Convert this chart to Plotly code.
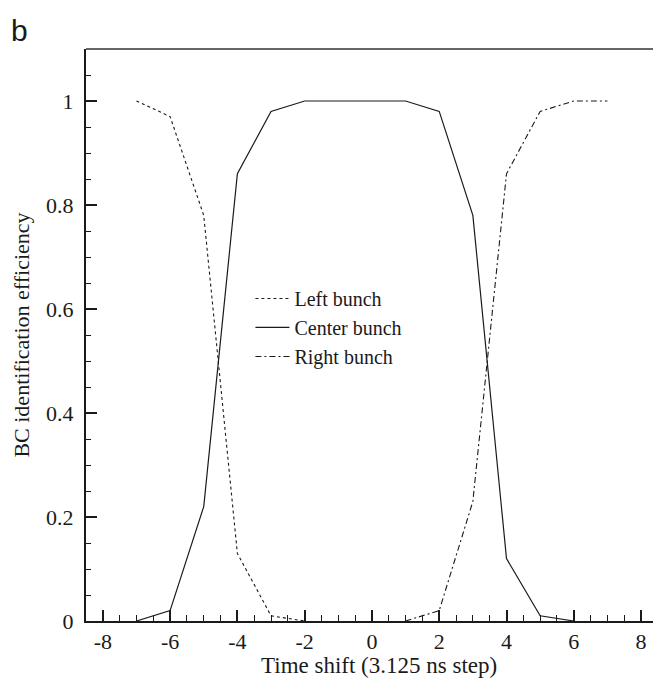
import plotly.graph_objects as go

x_left = [-7, -6, -5, -4, -3, -2]
y_left = [1.0, 0.97, 0.78, 0.13, 0.01, 0.0]

x_center = [-7, -6, -5, -4, -3, -2, -1, 0, 1, 2, 3, 4, 5, 6]
y_center = [0.0, 0.02, 0.22, 0.86, 0.98, 1.0, 1.0, 1.0, 1.0, 0.98, 0.78, 0.12, 0.01, 0.0]

x_right = [1, 2, 3, 4, 5, 6, 7]
y_right = [0.0, 0.02, 0.23, 0.86, 0.98, 1.0, 1.0]

x_ticks = [-8, -6, -4, -2, 0, 2, 4, 6, 8]
x_tick_labels = ["-8", "-6", "-4", "-2", "0", "2", "4", "6", "8"]
y_ticks = [0, 0.2, 0.4, 0.6, 0.8, 1]
y_tick_labels = ["0", "0.2", "0.4", "0.6", "0.8", "1"]

SERIF = "Liberation Serif, Times New Roman, serif"
INK = "#1a1a1a"

fig = go.Figure()
fig.add_trace(go.Scatter(x=x_left, y=y_left, mode="lines", name="Left bunch",
                         line=dict(color=INK, width=1.1, dash="3px,3px")))
fig.add_trace(go.Scatter(x=x_center, y=y_center, mode="lines", name="Center bunch",
                         line=dict(color=INK, width=1.2)))
fig.add_trace(go.Scatter(x=x_right, y=y_right, mode="lines", name="Right bunch",
                         line=dict(color=INK, width=1.1, dash="6px,3px,2px,3px")))

fig.update_layout(
    width=653, height=680,
    margin=dict(l=86, r=0, t=49, b=59),
    paper_bgcolor="white", plot_bgcolor="white",
    font=dict(family=SERIF, size=22, color=INK),
    showlegend=True,
    legend=dict(x=0.29, y=0.598, xanchor="left", yanchor="top",
                bgcolor="rgba(0,0,0,0)", font=dict(family=SERIF, size=20, color=INK),
                itemwidth=34, tracegroupgap=0),
    xaxis=dict(range=[-8.5, 8.355], tickmode="array", tickvals=x_ticks, ticktext=x_tick_labels,
               showgrid=False, zeroline=False, showline=True, linecolor=INK, linewidth=2,
               ticks="inside", ticklen=11, tickwidth=1.5, tickcolor=INK,
               minor=dict(dtick=0.5, ticks="inside", ticklen=6, tickwidth=1, tickcolor=INK),
               tickfont=dict(family=SERIF, size=22, color=INK)),
    yaxis=dict(range=[0, 1.1], tickmode="array", tickvals=y_ticks, ticktext=y_tick_labels,
               showgrid=False, zeroline=False, showline=True, linecolor=INK, linewidth=2,
               ticks="inside", ticklen=11, tickwidth=1.5, tickcolor=INK,
               minor=dict(dtick=0.05, ticks="inside", ticklen=5, tickwidth=1, tickcolor=INK),
               tickfont=dict(family=SERIF, size=22, color=INK), ticklabelstandoff=6,
               title=dict(text="BC identification efficiency", standoff=10,
                          font=dict(family=SERIF, size=22, color=INK))),
)

# x-axis title (centred on the full, partly cropped axis as in the reference)
fig.add_annotation(text="Time shift (3.125 ns step)", xref="paper", yref="paper",
                   x=0.517, y=-0.078, xanchor="center", yanchor="middle", showarrow=False,
                   font=dict(family=SERIF, size=23, color=INK))

# top frame line
fig.add_shape(type="line", xref="paper", yref="paper", x0=0, x1=1, y0=1, y1=1,
              line=dict(color="#666", width=2))

fig.add_annotation(text="b", xref="paper", yref="paper", x=-0.136, y=1.032,
                   xanchor="left", yanchor="middle", showarrow=False,
                   font=dict(family="Liberation Sans, Arial, sans-serif", size=30, color=INK))

fig.write_html("out.html")
